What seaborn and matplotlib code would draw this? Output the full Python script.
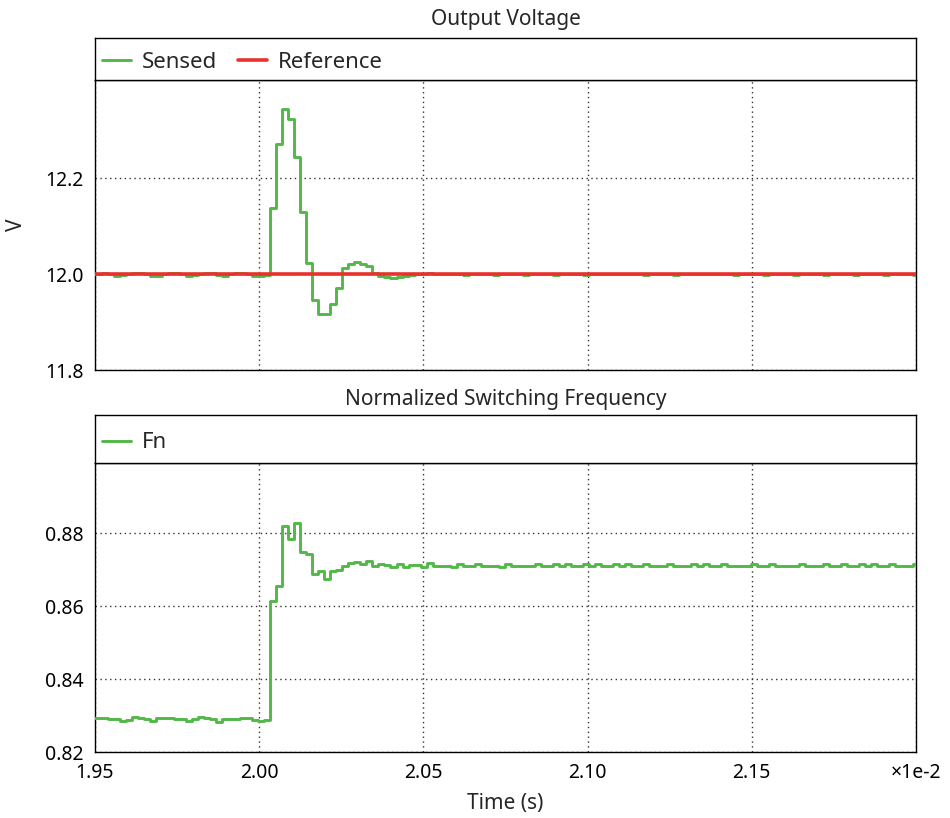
import numpy as np
import pandas as pd
import matplotlib
matplotlib.use("Agg")
import matplotlib.pyplot as plt
from matplotlib.lines import Line2D
import seaborn as sns

# ---------------- data (time in units of 1e-2 s) ----------------
step_time = 2.00338      # first sample after the load step
sample_period = 0.00183  # controller sample period
step_index = 30

sensed = [
    12.000, 12.001, 12.003, 12.001, 11.997, 11.999, 12.001, 12.003, 12.003, 12.000,
    11.997, 11.997, 12.000, 12.003, 12.002, 12.000, 11.997, 11.999, 12.001, 12.003,
    12.003, 11.998, 11.997, 12.000, 12.003, 12.002, 12.000, 11.997, 11.997, 11.999,
    12.137, 12.272, 12.345, 12.324, 12.244, 12.130, 12.024, 11.946, 11.917, 11.917,
    11.937, 11.971, 12.013, 12.022, 12.025, 12.022, 12.016, 12.003, 11.997, 11.995,
    11.992, 11.995, 11.997, 11.999,
    12.000, 12.001, 12.002, 12.001, 12.000, 12.000, 12.001, 12.000, 11.999, 12.000,
    12.001, 12.001, 12.000, 11.999, 12.000, 12.001, 12.000, 12.000, 11.999, 12.000,
    12.001, 12.000, 12.000, 11.999, 12.000, 12.001, 12.001, 12.000, 11.999, 12.000,
    12.001, 12.001, 12.000, 12.000, 12.000, 12.001, 12.000, 12.000, 11.999, 12.000,
    12.001, 12.001, 12.000, 11.999, 12.000, 12.001, 12.000, 12.000, 12.000, 12.000,
    12.001, 12.001, 12.000, 11.999, 12.000, 12.001, 12.000, 12.000, 11.999, 12.000,
    12.001, 12.001, 12.000, 11.999, 12.000, 12.001, 12.000, 12.000, 11.999, 12.000,
    12.001, 12.001, 12.000, 11.999, 12.000, 12.001, 12.000, 12.000, 11.999, 12.000,
    12.001, 12.001, 12.000, 11.999, 12.000,
]

fn = [
    0.8293, 0.8293, 0.8292, 0.8290, 0.8290, 0.8285, 0.8288, 0.8295, 0.8294, 0.8291,
    0.8285, 0.8292, 0.8293, 0.8292, 0.8290, 0.8290, 0.8284, 0.8290, 0.8295, 0.8293,
    0.8291, 0.8283, 0.8290, 0.8290, 0.8291, 0.8293, 0.8293, 0.8289, 0.8284, 0.8288,
    0.8614, 0.8655, 0.8820, 0.8785, 0.8828, 0.8749, 0.8742, 0.8687, 0.8697, 0.8673,
    0.8696, 0.8700, 0.8710, 0.8717, 0.8721, 0.8715, 0.8724, 0.8710, 0.8715, 0.8712,
    0.8708, 0.8715, 0.8708, 0.8713, 0.8712, 0.8708, 0.8717,
    0.8711, 0.8710, 0.8710, 0.8708, 0.8716, 0.8711, 0.8710, 0.8716, 0.8710, 0.8711,
    0.8710, 0.8708, 0.8716, 0.8711, 0.8710, 0.8711, 0.8709, 0.8716, 0.8711, 0.8710,
    0.8716, 0.8710, 0.8716, 0.8711, 0.8709, 0.8716, 0.8710, 0.8716, 0.8711, 0.8709,
    0.8716, 0.8710, 0.8716, 0.8711, 0.8710, 0.8716, 0.8711, 0.8710, 0.8709, 0.8716,
    0.8711, 0.8710, 0.8709, 0.8716, 0.8710, 0.8716, 0.8711, 0.8709, 0.8716, 0.8711,
    0.8710, 0.8711, 0.8709, 0.8716, 0.8711, 0.8709, 0.8716, 0.8711, 0.8710, 0.8711,
    0.8709, 0.8716, 0.8711, 0.8710, 0.8709, 0.8716, 0.8711, 0.8709, 0.8716, 0.8711,
    0.8709, 0.8716, 0.8710, 0.8716, 0.8711, 0.8709, 0.8716, 0.8711, 0.8710, 0.8709,
    0.8716, 0.8711,
]

ref_time = [1.94, 2.21]
ref_value = [12.0, 12.0]

xticks = [1.95, 2.00, 2.05, 2.10, 2.15, 2.20]
xticklabels = ["1.95", "2.00", "2.05", "2.10", "2.15", "\u00d71e-2"]
v_ticks = [11.8, 12.0, 12.2]
fn_ticks = [0.82, 0.84, 0.86, 0.88]

# ---------------- frames ----------------
t = step_time + (np.arange(len(sensed)) - step_index) * sample_period
df_v = pd.DataFrame({"t": t, "v": sensed})
df_f = pd.DataFrame({"t": step_time + (np.arange(len(fn)) - step_index) * sample_period, "f": fn})
df_r = pd.DataFrame({"t": ref_time, "v": ref_value})

# ---------------- style ----------------
sns.set_theme(style="white")
plt.rcParams["font.family"] = ["Noto Sans", "DejaVu Sans"]
plt.rcParams["axes.edgecolor"] = "black"
plt.rcParams["axes.linewidth"] = 1.0

GREEN = "#52b848"
RED = "#e8312b"
TICK_FS = 14
LEG_FS = 16
TITLE_FS = 15
LABEL_FS = 15

fig = plt.figure(figsize=(9.5, 8.18), dpi=100)
W, H = 950.0, 818.0


def rect(l, t_, r, b):
    return [l / W, 1 - b / H, (r - l) / W, (b - t_) / H]


ax1 = fig.add_axes(rect(95, 80, 916, 370))
leg1 = fig.add_axes(rect(95, 38, 916, 80))
ax2 = fig.add_axes(rect(95, 463, 916, 752))
leg2 = fig.add_axes(rect(95, 415, 916, 463))

sns.lineplot(data=df_v, x="t", y="v", ax=ax1, color=GREEN, linewidth=2.1,
             drawstyle="steps-post", estimator=None, zorder=3)
sns.lineplot(data=df_r, x="t", y="v", ax=ax1, color=RED, linewidth=2.6,
             estimator=None, zorder=4)
sns.lineplot(data=df_f, x="t", y="f", ax=ax2, color=GREEN, linewidth=2.1,
             drawstyle="steps-post", estimator=None, zorder=3)

for ax in (ax1, ax2):
    ax.set_xlim(1.95, 2.20)
    ax.set_xticks(xticks)
    ax.grid(True, linestyle=(0, (1, 2.5)), color="#333333", linewidth=1.0)
    ax.set_axisbelow(True)
    ax.tick_params(axis="both", direction="out", length=5, width=1,
                   labelsize=TICK_FS, colors="black", pad=3)
    ax.set_xlabel("")
    ax.set_ylabel("")
    for s in ax.spines.values():
        s.set_color("black")
        s.set_linewidth(1.0)

ax1.set_ylim(11.8, 12.405)
ax1.set_yticks(v_ticks)
ax1.set_yticklabels([f"{v:.1f}" for v in v_ticks])
ax1.tick_params(axis="x", labelbottom=False, length=0)

ax2.set_ylim(0.82, 0.8992)
ax2.set_yticks(fn_ticks)
ax2.set_yticklabels([f"{v:.2f}" for v in fn_ticks])
ax2.set_xticklabels(xticklabels)

for lg in (leg1, leg2):
    lg.set_xticks([])
    lg.set_yticks([])
    for s in lg.spines.values():
        s.set_color("black")
        s.set_linewidth(1.0)

h1 = [Line2D([], [], color=GREEN, lw=2.1), Line2D([], [], color=RED, lw=2.6)]
leg1.legend(h1, ["Sensed", "Reference"], loc="center left", bbox_to_anchor=(0.0, 0.42),
            ncol=2, frameon=False,
            fontsize=LEG_FS, handlelength=1.3, handletextpad=0.5,
            columnspacing=0.95, borderaxespad=0.0, borderpad=0.3)
leg2.legend([Line2D([], [], color=GREEN, lw=2.1)], ["Fn"], loc="center left",
            bbox_to_anchor=(0.0, 0.42),
            frameon=False, fontsize=LEG_FS, handlelength=1.3, handletextpad=0.5,
            borderaxespad=0.0, borderpad=0.3)

fig.text(505.5 / W, 1 - 19 / H, "Output Voltage", ha="center", va="center", fontsize=TITLE_FS)
fig.text(505.5 / W, 1 - 399 / H, "Normalized Switching Frequency", ha="center",
         va="center", fontsize=TITLE_FS)
fig.text(16 / W, 1 - 225 / H, "V", ha="center", va="center", rotation=90, fontsize=LABEL_FS)
fig.text(505.5 / W, 1 - 803 / H, "Time (s)", ha="center", va="center", fontsize=LABEL_FS)

fig.savefig("out.png", dpi=100)
